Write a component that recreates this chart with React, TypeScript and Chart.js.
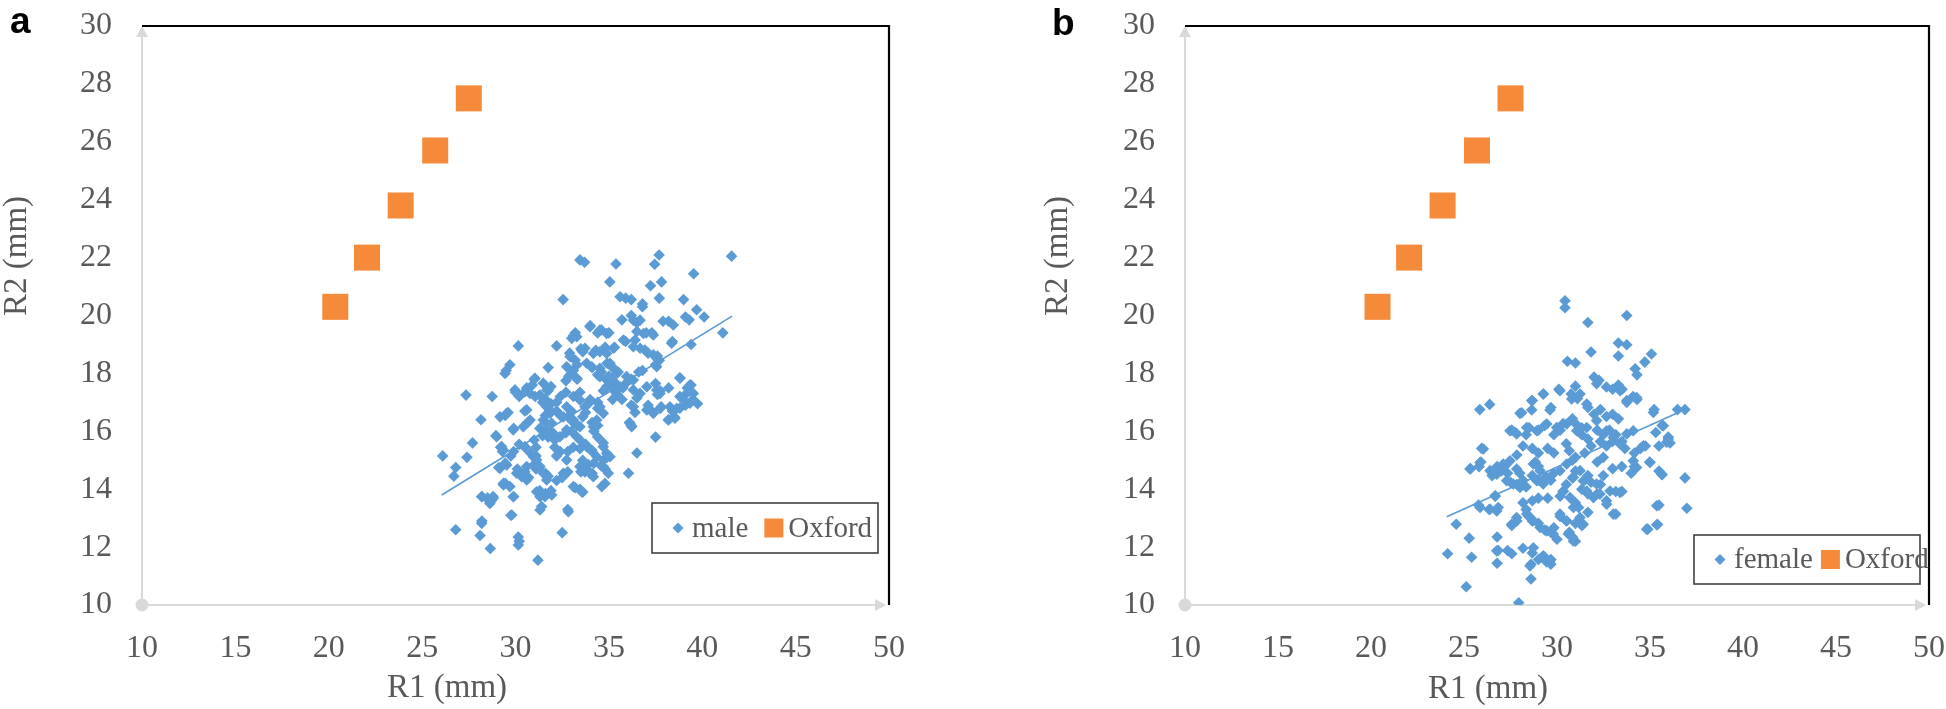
import React, { useEffect, useRef } from "react";
import { Chart, registerables } from "chart.js";

Chart.register(...registerables);

// ---------------- data ----------------
const xTickRange = [10, 50];
const xTickStep = 5;
const yTickRange = [10, 30];
const yTickStep = 2;

const oxfordR1 = [20.35, 22.05, 23.85, 25.7, 27.5];
const oxfordR2 = [20.3, 22.0, 23.8, 25.7, 27.5];

const malePoints: number[][] = [
  [33.45,21.92],[33.7,21.84],[35.38,21.78],[37.69,22.09],[37.45,21.77],[41.57,22.05],[39.54,21.44],[35.05,21.16],[37.82,21.16],[37.23,21.03],
  [32.55,20.55],[35.9,20.6],[36.2,20.55],[36.8,20.4],[36.8,20.3],[37.7,20.6],[39.0,20.55],[39.7,20.2],[40.1,19.95],[39.1,19.95],
  [39.3,19.85],[41.1,19.4],[37.9,19.8],[38.2,19.8],[35.7,19.85],[36.2,20.0],[36.5,19.75],[36.5,19.45],[37.0,19.4],[37.3,19.4],
  [35.0,19.4],[34.6,19.5],[34.4,19.4],[34.0,19.65],[33.2,19.4],[33.1,19.3],[32.2,18.95],[30.15,18.95],[33.5,18.85],[33.6,18.75],
  [34.3,18.8],[34.8,18.9],[35.3,18.9],[35.9,19.1],[36.4,19.15],[37.1,18.7],[38.4,19.1],[39.4,19.0],[32.9,18.7],[37.6,18.6],
  [37.7,18.45],[37.5,18.3],[34.9,18.35],[35.2,18.2],[34.1,18.2],[33.3,18.3],[33.1,18.1],[31.75,18.2],[29.5,18.1],[29.7,18.3],
  [36.6,18.05],[36.8,18.1],[38.8,17.85],[39.4,17.6],[39.2,17.5],[38.2,17.5],[37.5,17.65],[36.2,17.8],[35.9,17.65],[35.75,17.5],
  [35.3,17.7],[35.0,17.6],[34.7,17.4],[35.45,17.27],[35.7,17.1],[35.2,17.1],[36.5,17.15],[37.75,17.4],[37.6,17.27],[38.8,17.2],
  [39.1,17.27],[39.5,17.1],[39.75,16.95],[38.8,16.8],[38.4,16.7],[37.1,16.9],[37.3,16.7],[37.8,16.85],[36.2,16.9],[36.4,16.65],
  [36.1,16.3],[36.2,16.2],[37.5,15.8],[36.5,15.25],[36.05,14.55],[34.6,14.8],[34.8,14.7],[34.9,15.1],[34.7,15.0],[34.7,15.6],
  [34.4,15.8],[34.4,16.2],[34.2,16.0],[34.1,16.3],[33.6,16.5],[33.75,16.65],[33.9,16.95],[34.0,17.1],[34.4,16.8],[34.4,17.0],
  [33.45,17.35],[33.1,17.2],[32.7,17.35],[32.4,17.2],[31.9,16.95],[31.75,16.8],[31.6,16.55],[31.6,16.3],[32.2,16.7],[32.4,16.55],
  [32.8,16.5],[33.1,16.3],[33.3,16.2],[33.0,16.0],[32.7,15.95],[31.9,15.95],[31.75,15.8],[32.1,15.7],[31.3,16.1],[31.45,15.85],
  [31.0,15.7],[31.1,15.45],[32.1,15.45],[32.4,15.3],[32.2,15.15],[32.8,15.3],[33.1,15.45],[33.45,15.4],[33.75,15.55],[34.1,15.3],
  [33.6,15.0],[33.9,14.85],[34.2,14.9],[33.5,14.6],[33.75,14.7],[34.1,14.55],[32.8,14.6],[33.2,14.05],[33.45,14.0],[33.6,13.9],
  [32.5,14.4],[32.2,14.3],[31.6,14.55],[31.75,14.45],[32.8,13.3],[31.3,13.95],[31.6,13.85],[31.9,13.95],[31.4,13.4],[30.7,14.4],
  [30.5,14.6],[30.2,14.55],[30.1,14.7],[31.0,14.85],[31.1,14.7],[31.1,15.15],[30.8,15.25],[30.5,15.45],[30.2,15.55],[29.9,15.3],
  [29.75,15.15],[29.45,14.9],[29.1,14.75],[29.35,14.15],[29.45,14.2],[29.9,13.75],[29.75,13.1],[28.8,13.75],[28.7,13.6],[28.5,13.7],
  [28.2,13.75],[28.2,12.9],[28.1,12.4],[28.65,11.95],[30.15,12.35],[30.2,12.2],[31.2,11.55],[32.5,12.5],[26.8,12.6],[26.1,15.15],
  [26.8,14.75],[26.7,14.45],[27.4,15.1],[27.7,15.6],[27.35,17.25],[28.15,16.4],[28.75,17.2],[28.95,15.85],[29.2,15.45],[29.3,15.3],
  [29.45,16.55],[29.6,16.65],[29.9,16.1],[30.0,17.35],[30.2,17.2],[30.5,16.7],[30.6,17.5],[30.9,17.6],[31.0,17.8],[31.05,17.2],
  [31.3,17.25],[31.45,17.0],[31.6,17.1],[31.75,17.4],[31.9,17.55],[32.2,17.0],[32.7,17.75],[32.85,17.9],[33.0,18.0],[33.3,17.8],
  [34.4,17.95],[34.6,18.05],[35.0,17.9],[35.5,18.05],[39.1,16.9],[38.2,16.4],[38.5,16.5],[30.65,16.3],
  [35.6,20.65],[38.45,19.67],[36.31,19.84],[36.67,19.84],[36.85,19.38],[37.38,19.33],[33.99,19.61],[34.52,19.5],[34.88,19.38],[33.28,19.27],
  [33.01,19.21],[32.92,18.58],[33.19,18.46],[33.54,18.81],[33.72,18.87],[34.17,18.69],[34.52,18.75],[34.88,18.69],[35.24,18.87],[35.78,19.15],
  [36.31,18.92],[36.67,18.87],[36.93,18.81],[37.38,18.64],[37.65,18.46],[37.56,18.23],[38.36,19.04],[33.81,18.35],[34.08,18.23],[34.52,18.18],
  [35.06,18.35],[35.24,18.18],[32.74,18.23],[33.01,18.0],[33.28,17.83],[29.44,18.0],[31.04,17.83],[31.49,17.66],[31.67,17.43],[29.97,17.43],
  [30.51,17.37],[30.78,17.31],[34.52,17.89],[34.88,17.77],[35.42,18.0],[35.95,17.89],[36.31,17.77],[34.88,17.54],[35.24,17.43],[35.6,17.54],
  [36.31,17.43],[36.67,17.31],[37.03,17.54],[37.56,17.43],[37.74,17.31],[38.81,17.83],[39.34,17.6],[39.52,17.31],[38.99,17.08],[39.34,16.97],
  [38.27,16.85],[38.63,16.79],[38.54,16.45],[38.18,16.39],[37.03,16.74],[37.38,16.62],[37.74,16.79],[36.31,16.85],[36.13,16.28],[36.22,16.16],
  [34.52,16.85],[34.7,16.62],[34.35,16.39],[34.17,16.16],[33.45,17.08],[33.72,16.85],[33.99,17.02],[32.74,16.85],[33.01,16.68],[32.56,16.5],
  [31.67,16.85],[31.85,16.62],[31.49,16.39],[31.94,16.28],[30.6,16.74],[30.78,16.39],[30.42,16.16],[29.17,16.5],[29.53,16.62],[29.88,16.05],
  [28.99,15.81],[29.26,15.47],[29.35,15.35],[30.51,15.47],[30.96,15.12],[31.13,15.01],[30.6,14.78],[31.67,16.05],[32.03,15.93],[32.38,15.81],
  [32.74,16.05],[33.1,16.39],[33.45,16.16],[33.28,15.81],[33.45,15.7],[33.81,15.47],[34.08,15.35],[34.35,15.12],[34.7,15.47],[34.88,15.24],
  [35.06,15.12],[34.7,14.78],[34.97,14.55],[34.79,14.2],[34.62,14.09],[33.45,14.78],[33.72,14.6],[33.99,14.55],[34.17,14.43],[32.74,15.01],
  [32.56,14.55],[33.1,14.09],[33.54,13.91],[31.31,14.78],[31.49,14.55],[31.67,14.32],[30.06,14.55],[30.33,14.43],[30.6,14.32],[29.17,14.72],
  [29.53,14.84],[29.35,14.2],[29.7,14.09],[31.13,13.91],[31.31,13.74],[31.58,13.74],[31.94,13.8],[28.19,13.74],[28.54,13.63],[28.81,13.69],
  [28.63,13.51],[29.88,13.74],[29.8,13.11],[31.31,13.28],[32.83,13.22],[28.19,12.82],[30.15,12.07],
];

const femalePoints: number[][] = [
  [30.43,20.51],[30.43,20.27],[33.75,20.0],[31.66,19.76],[31.83,18.74],[33.3,19.05],[33.75,18.99],[35.08,18.67],[34.72,18.39],[30.56,18.42],
  [30.99,18.36],[34.2,18.16],[34.3,17.95],[33.3,18.6],[31.99,17.87],[32.26,17.76],[32.66,17.53],[32.99,17.45],[33.3,17.6],[33.5,17.45],
  [34.09,17.2],[34.3,17.1],[33.75,17.0],[30.99,17.56],[30.76,17.29],[31.1,17.13],[30.1,17.45],[29.27,17.29],[28.67,17.06],[29.67,16.82],
  [28.1,16.64],[26.38,16.93],[25.85,16.75],[35.22,16.75],[36.48,16.75],[36.88,16.75],[31.66,16.82],[31.99,16.59],[32.33,16.75],[32.66,16.51],
  [32.99,16.59],[33.3,16.43],[30.83,16.43],[30.99,16.27],[31.33,16.12],[30.33,16.27],[30.17,16.04],[29.83,15.88],[29.34,16.2],[29.0,16.04],
  [28.5,16.12],[28.34,15.88],[27.57,16.04],[27.77,15.96],[28.17,15.49],[28.67,15.41],[29.0,15.25],[29.5,15.41],[29.83,15.25],[30.5,15.57],
  [30.66,15.33],[31.33,15.88],[31.66,15.73],[31.83,15.49],[32.16,16.04],[32.49,15.88],[32.82,16.04],[32.33,15.65],[32.66,15.49],[32.99,15.65],
  [33.16,15.88],[33.49,15.65],[33.65,15.41],[34.16,15.25],[34.49,15.41],[34.75,15.49],[35.48,15.49],[35.31,15.96],[35.65,16.2],[35.98,15.8],
  [36.08,15.6],[34.98,14.94],[35.48,14.63],[35.65,14.5],[36.88,14.39],[36.98,13.34],[35.48,13.45],[35.41,12.78],[34.88,12.62],[34.16,14.78],
  [33.99,14.55],[33.49,14.78],[33.16,13.92],[33.49,13.92],[33.16,13.14],[32.66,13.6],[32.16,13.84],[32.33,14.16],[31.66,14.47],[31.49,14.31],
  [31.83,14.24],[31.33,14.0],[31.66,13.84],[30.99,14.63],[30.83,14.39],[30.5,14.16],[30.33,13.92],[30.17,13.76],[29.67,14.31],[29.83,14.55],
  [29.34,14.39],[29.0,14.31],[28.67,14.47],[29.0,14.78],[28.84,14.94],[28.0,14.55],[28.17,14.31],[27.84,14.16],[28.34,14.08],[27.5,14.24],
  [27.18,14.78],[27.01,14.63],[27.34,14.55],[26.78,14.78],[26.51,14.47],[25.91,14.94],[25.81,14.78],[25.35,14.71],[25.95,15.41],[25.78,13.45],
  [26.35,13.3],[26.68,13.76],[26.84,13.37],[24.58,12.79],[25.28,12.31],[25.41,11.65],[24.12,11.77],[25.12,10.63],[26.78,12.35],[26.78,11.44],
  [26.84,11.88],[27.34,11.88],[27.57,11.77],[28.17,11.96],[28.6,11.41],[28.67,11.8],[28.6,10.9],[27.94,10.08],[29.0,11.57],[29.44,11.49],
  [29.67,11.41],[29.34,11.65],[29.67,11.57],[27.57,12.75],[27.84,12.9],[28.17,13.53],[28.34,13.3],[28.67,13.6],[29.0,13.69],[28.5,13.06],
  [28.67,12.9],[29.0,12.82],[29.34,12.59],[29.67,12.51],[30.0,12.27],[29.83,12.67],[30.17,13.06],[30.5,12.9],[30.66,12.51],[30.83,12.35],
  [30.99,12.2],[30.99,12.82],[31.33,12.75],[31.66,13.2],[31.16,13.37],[30.99,13.53],[32.99,14.71],[32.49,14.47],[29.5,13.69],[30.83,15.0],
  [30.99,15.1],[31.49,15.25],[32.49,15.1],[32.16,14.94],[27.84,15.18],
  [28.01,16.62],[28.64,17.06],[28.64,16.74],[29.26,17.29],[29.62,16.74],[30.16,17.4],[30.79,17.12],[31.24,17.29],[31.6,16.94],[32.13,17.64],
  [27.47,16.02],[27.83,15.91],[28.37,16.13],[28.91,16.02],[29.45,16.25],[29.98,16.13],[30.52,16.25],[31.06,16.02],[31.6,16.13],[32.13,16.37],
  [32.67,16.02],[33.03,15.79],[33.39,15.56],[33.75,15.91],[34.1,16.02],[34.28,17.17],[33.75,17.06],[33.39,17.4],[35.18,16.65],[35.72,16.19],
  [35.98,15.73],[35.9,15.62],[26.04,15.39],[25.32,14.7],[25.86,14.92],[26.4,14.64],[26.76,14.52],[27.11,14.87],[27.47,14.98],[27.83,14.7],
  [27.29,14.29],[27.65,14.18],[28.01,14.06],[28.73,14.87],[29.09,14.64],[29.45,14.41],[28.91,14.29],[29.26,14.18],[30.16,14.64],[30.52,14.87],
  [30.88,14.41],[30.34,13.94],[30.7,13.71],[31.24,14.64],[31.41,14.29],[31.6,13.94],[32.13,14.18],[32.31,13.83],[32.85,13.94],[26.67,13.77],
  [25.86,13.37],[26.4,13.31],[26.76,13.25],[27.56,12.79],[27.83,13.02],[28.37,13.14],[28.73,12.91],[29.09,12.68],[29.45,12.56],[29.8,12.45],
  [30.16,13.14],[30.52,12.91],[30.88,13.37],[31.41,12.79],[31.24,13.02],[31.96,13.71],[32.67,13.48],[33.03,13.14],[33.39,13.89],[34.1,14.98],
  [34.28,14.75],[35.0,14.92],[34.64,15.5],[35.36,13.43],[34.82,12.62],[35.36,12.77],[35.63,14.52],[26.76,11.87],[28.73,11.98],[28.55,11.35],
  [29.26,11.7],[29.62,11.52],[30.88,12.21],[30.61,12.45],
];

const maleTrendR1 = [26.05, 41.6];
const maleTrendR2 = [13.8, 19.98];
const femaleTrendR1 = [24.07, 36.97];
const femaleTrendR2 = [13.05, 16.78];

// ---------------- style ----------------
const BLUE = "#5B9BD5";
const ORANGE = "#F58A3B";
const TEXT = "#595959";
const AXIS = "#D9D9D9";
const SERIF = "'Liberation Serif', 'Times New Roman', serif";

type PanelCfg = {
  letter: string;
  letterX: number;
  letterY: number;
  seriesLabel: string;
  points: number[][];
  trendR1: number[];
  trendR2: number[];
  yAxisWidth: number;
  rightPad: number;
  yTitleX: number;
  yTitleY: number;
  xTitleX: number;
  xTitleY: number;
  legend: { left: number; top: number; w: number; h: number; textGap: number };
};

const panelDecor = {
  id: "panelDecor",
  beforeDatasetsDraw(chart: any) {
    const ctx = chart.ctx;
    const a = chart.chartArea;
    ctx.save();
    // light gray axes with arrow heads and origin dot
    ctx.strokeStyle = AXIS;
    ctx.fillStyle = AXIS;
    ctx.lineWidth = 2;
    ctx.beginPath();
    ctx.moveTo(a.left, a.bottom);
    ctx.lineTo(a.left, a.top + 8);
    ctx.moveTo(a.left, a.bottom);
    ctx.lineTo(a.right - 8, a.bottom);
    ctx.stroke();
    ctx.beginPath();
    ctx.moveTo(a.left, a.top);
    ctx.lineTo(a.left - 6, a.top + 11);
    ctx.lineTo(a.left + 6, a.top + 11);
    ctx.closePath();
    ctx.fill();
    ctx.beginPath();
    ctx.moveTo(a.right - 3, a.bottom);
    ctx.lineTo(a.right - 14, a.bottom - 6);
    ctx.lineTo(a.right - 14, a.bottom + 6);
    ctx.closePath();
    ctx.fill();
    ctx.beginPath();
    ctx.arc(a.left, a.bottom, 6.5, 0, Math.PI * 2);
    ctx.fill();
    // black frame top and right
    ctx.strokeStyle = "#000000";
    ctx.lineWidth = 2.2;
    ctx.beginPath();
    ctx.moveTo(a.left, a.top);
    ctx.lineTo(a.right, a.top);
    ctx.lineTo(a.right, a.bottom);
    ctx.stroke();
    ctx.restore();
  },
  afterDraw(chart: any) {
    const cfg: PanelCfg = chart.options.plugins.panelDecor.cfg;
    const ctx = chart.ctx;
    ctx.save();
    // panel letter
    ctx.fillStyle = "#000000";
    ctx.font = "bold 37px 'Liberation Sans', Arial, sans-serif";
    ctx.textAlign = "left";
    ctx.textBaseline = "alphabetic";
    ctx.fillText(cfg.letter, cfg.letterX, cfg.letterY);
    // axis titles
    ctx.fillStyle = TEXT;
    ctx.font = `33px ${SERIF}`;
    ctx.textAlign = "center";
    ctx.textBaseline = "middle";
    ctx.fillText("R1 (mm)", cfg.xTitleX, cfg.xTitleY);
    ctx.save();
    ctx.translate(cfg.yTitleX, cfg.yTitleY);
    ctx.rotate(-Math.PI / 2);
    ctx.fillText("R2 (mm)", 0, 0);
    ctx.restore();
    // legend
    const L = cfg.legend;
    ctx.fillStyle = "#FFFFFF";
    ctx.fillRect(L.left, L.top, L.w, L.h);
    ctx.strokeStyle = "#404040";
    ctx.lineWidth = 1.6;
    ctx.strokeRect(L.left, L.top, L.w, L.h);
    const cy = L.top + L.h / 2;
    let x = L.left + 26;
    ctx.fillStyle = BLUE;
    ctx.beginPath();
    ctx.moveTo(x - 5.5, cy);
    ctx.lineTo(x, cy - 5.5);
    ctx.lineTo(x + 5.5, cy);
    ctx.lineTo(x, cy + 5.5);
    ctx.closePath();
    ctx.fill();
    ctx.font = `29px ${SERIF}`;
    ctx.textAlign = "left";
    ctx.textBaseline = "middle";
    ctx.fillStyle = TEXT;
    const ds = chart.data.datasets;
    const t1 = ds[1].label;
    x += 14;
    ctx.fillText(t1, x, cy + 1);
    x += ctx.measureText(t1).width + L.textGap;
    ctx.fillStyle = ORANGE;
    ctx.fillRect(x, cy - 9.5, 19, 19);
    x += 24;
    ctx.fillStyle = TEXT;
    ctx.fillText(ds[0].label, x, cy + 1);
    ctx.restore();
  },
};

function buildConfig(cfg: PanelCfg): any {
  return {
    type: "scatter",
    data: {
      datasets: [
        {
          label: "Oxford",
          data: oxfordR1.map((v, i) => ({ x: v, y: oxfordR2[i] })),
          pointStyle: "rect",
          pointRadius: 18.4,
          backgroundColor: ORANGE,
          borderWidth: 0,
          order: 1,
        },
        {
          label: cfg.seriesLabel,
          data: cfg.points.map((p) => ({ x: p[0], y: p[1] })),
          pointStyle: "rectRot",
          pointRadius: 5.8,
          backgroundColor: BLUE,
          borderWidth: 0,
          order: 2,
        },
        {
          label: "trend",
          type: "line",
          data: cfg.trendR1.map((v, i) => ({ x: v, y: cfg.trendR2[i] })),
          showLine: true,
          borderColor: BLUE,
          borderWidth: 1.6,
          pointRadius: 0,
          fill: false,
          order: 3,
        },
      ],
    },
    options: {
      animation: false,
      responsive: false,
      maintainAspectRatio: false,
      events: [],
      layout: {
        autoPadding: false,
        padding: { left: 0, top: 26, right: cfg.rightPad, bottom: 0 },
      },
      plugins: {
        legend: { display: false },
        tooltip: { enabled: false },
        panelDecor: { cfg },
      },
      scales: {
        x: {
          type: "linear",
          min: xTickRange[0],
          max: xTickRange[1],
          grid: { display: false, drawTicks: false },
          border: { display: false },
          ticks: {
            stepSize: xTickStep,
            padding: 24,
            color: TEXT,
            font: { family: SERIF, size: 32 },
            maxRotation: 0,
          },
          afterFit: (s: any) => {
            s.height = 104;
            s.paddingLeft = 0;
            s.paddingRight = 0;
          },
        },
        y: {
          type: "linear",
          min: yTickRange[0],
          max: yTickRange[1],
          grid: { display: false, drawTicks: false },
          border: { display: false },
          ticks: {
            stepSize: yTickStep,
            padding: 30,
            color: TEXT,
            font: { family: SERIF, size: 32 },
          },
          afterFit: (s: any) => {
            s.width = cfg.yAxisWidth;
            s.paddingTop = 0;
            s.paddingBottom = 0;
          },
        },
      },
    },
    plugins: [panelDecor],
  };
}

const leftCfg: PanelCfg = {
  letter: "a",
  letterX: 10,
  letterY: 33,
  seriesLabel: "male",
  points: malePoints,
  trendR1: maleTrendR1,
  trendR2: maleTrendR2,
  yAxisWidth: 142,
  rightPad: 84,
  yTitleX: 17,
  yTitleY: 256,
  xTitleX: 447,
  xTitleY: 688,
  legend: { left: 652, top: 503, w: 226, h: 50, textGap: 16 },
};

const rightCfg: PanelCfg = {
  letter: "b",
  letterX: 79,
  letterY: 35,
  seriesLabel: "female",
  points: femalePoints,
  trendR1: femaleTrendR1,
  trendR2: femaleTrendR2,
  yAxisWidth: 212,
  rightPad: 17,
  yTitleX: 85,
  yTitleY: 256,
  xTitleX: 515,
  xTitleY: 689,
  legend: { left: 721, top: 535, w: 226, h: 49, textGap: 8 },
};

function Panel({ cfg, left }: { cfg: PanelCfg; left: number }) {
  const ref = useRef<HTMLCanvasElement | null>(null);
  useEffect(() => {
    if (!ref.current) return;
    const chart = new Chart(ref.current, buildConfig(cfg));
    return () => chart.destroy();
  }, []);
  return (
    <canvas
      ref={ref}
      width={973}
      height={709}
      style={{ position: "absolute", left, top: 0, width: 973, height: 709 }}
    />
  );
}

export default function App() {
  return (
    <div
      style={{
        position: "absolute",
        left: 0,
        top: 0,
        width: 1946,
        height: 709,
        background: "#FFFFFF",
        overflow: "hidden",
      }}
    >
      <Panel cfg={leftCfg} left={0} />
      <Panel cfg={rightCfg} left={973} />
    </div>
  );
}
